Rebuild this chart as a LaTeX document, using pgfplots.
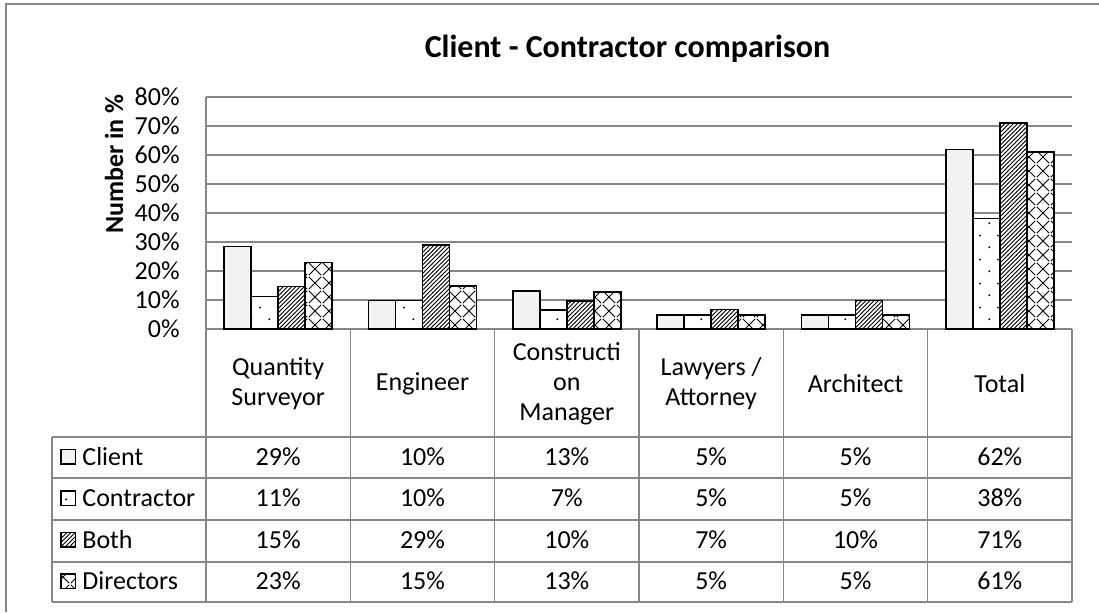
\documentclass[border=0pt]{standalone}
\usepackage{fontspec}
\setmainfont{Carlito}
\usepackage{pgfplots}
\pgfplotsset{compat=1.18}
\usepackage{pgfplotstable}
\usetikzlibrary{patterns.meta}

\definecolor{gridcol}{HTML}{878787}
\definecolor{clientfill}{HTML}{F2F2F2}

% Excel-like fill patterns
\tikzdeclarepattern{
  name=sparsedots, type=uncolored,
  tile size={(8.85pt,12pt)},
  bounding box={(0pt,0pt) and (8.85pt,12pt)},
  code={
    \fill (2.2pt,3pt) circle (0.55pt);
    \fill (6.6pt,9pt) circle (0.55pt);
  }
}
\tikzdeclarepattern{
  name=denselines, type=uncolored,
  tile size={(2.1pt,2.1pt)},
  bounding box={(-0.1pt,-0.1pt) and (2.2pt,2.2pt)},
  code={\draw[line width=0.45pt] (-0.3pt,-0.3pt) -- (2.4pt,2.4pt);}
}
\tikzdeclarepattern{
  name=diamonds, type=uncolored,
  tile size={(7pt,7pt)},
  bounding box={(-0.1pt,-0.1pt) and (7.1pt,7.1pt)},
  code={
    \draw[line width=0.5pt] (0.4pt,0.4pt) -- (6.6pt,6.6pt);
    \draw[line width=0.5pt] (0.4pt,6.6pt) -- (6.6pt,0.4pt);
  }
}

\tikzset{
  clientbar/.style={fill=clientfill},
  contrbar/.style={fill=white, postaction={pattern={sparsedots}, pattern color=black}},
  bothbar/.style={fill=white, postaction={pattern={denselines}, pattern color=black}},
  dirbar/.style={fill=white, postaction={pattern={diamonds}, pattern color=black}},
}

\pgfplotstableread{
x client contractor both directors
0 28.5 11.2 14.6 22.9
1 9.8  9.8  29.0 14.8
2 13.1 6.5  9.7  12.7
3 4.8  4.8  6.7  4.8
4 4.8  4.8  9.8  4.8
5 62.0 38.2 71.0 61.0
}\shares

\begin{document}
\fontsize{13}{15}\selectfont
\begin{tikzpicture}[px/.style={x=0.5pt,y=-0.5pt,shift={(-103pt,164.5pt)}}]
\begin{axis}[
  at={(0pt,0pt)}, anchor=south west,
  scale only axis, width=433pt, height=116pt,
  xmin=-0.5, xmax=5.5, ymin=0, ymax=80,
  ybar=0pt, bar width=13.5pt,
  xtick=\empty, ytick={0,10,...,80},
  yticklabel={\pgfmathprintnumber{\tick}\%},
  /pgf/number format/assume math mode=true,
  major tick length=0pt,
  ymajorgrids, grid style={gridcol, line width=0.75pt},
  axis lines*=left, axis line style={gridcol, line width=0.75pt, -},
  yticklabel style={inner sep=0pt, xshift=-13pt, anchor=east},
  every axis plot/.append style={draw=black, line width=0.7pt},
]
\addplot[clientbar] table[x=x,y=client]{\shares};
\addplot[contrbar] table[x=x,y=contractor]{\shares};
\addplot[bothbar] table[x=x,y=both]{\shares};
\addplot[dirbar] table[x=x,y=directors]{\shares};
\end{axis}

\begin{scope}[px]
  % chart frame
  \draw[gridcol, line width=0.75pt] (6,612) -- (6,4) -- (1099,4);
  % data table grid
  \begin{scope}[gridcol, line width=0.75pt]
    \foreach \k in {0,...,6} \draw ({206+144.333*\k},329) -- ({206+144.333*\k},602);
    \foreach \y in {437,478,520,562,602} \draw (52,\y) -- (1072,\y);
    \draw (52,437) -- (52,602);
  \end{scope}
  % legend keys in the table
  \foreach \st/\name [count=\r from 0] in {clientbar/Client,contrbar/Contractor,bothbar/Both,dirbar/Directors} {
    \draw[\st, draw=black, line width=0.6pt] (61,{449.5+41.5*\r}) rectangle (75.5,{464+41.5*\r});
    \node[anchor=base west, inner sep=0pt] at (82,{465+41.5*\r}) {\name};
  }
  % titles
  \node[font=\bfseries\fontsize{16}{19}\selectfont, anchor=base] at (627.5,57) {Client - Contractor comparison};
  \node[font=\bfseries, rotate=90] at (114,164) {Number in \%};
  % category header
  \foreach \lab [count=\i from 0] in {{Quantity\\Surveyor},Engineer,{Constructi\\on\\Manager},{Lawyers /\\Attorney},Architect,Total}
    \node[align=center] at ({206+144.333*(\i+0.5)},384) {\lab};
  % table values
  \foreach \vals [count=\r from 0] in {{29,10,13,5,5,62},{11,10,7,5,5,38},{15,29,10,7,10,71},{23,15,13,5,5,61}}
    \foreach \v [count=\i from 0] in \vals
      \node[anchor=base, inner sep=0pt] at ({206+144.333*(\i+0.5)},{465+41.5*\r}) {\v\%};
\end{scope}

\pgfresetboundingbox
\path[px, use as bounding box] (0,0) rectangle (1099,612);
\end{tikzpicture}
\end{document}
